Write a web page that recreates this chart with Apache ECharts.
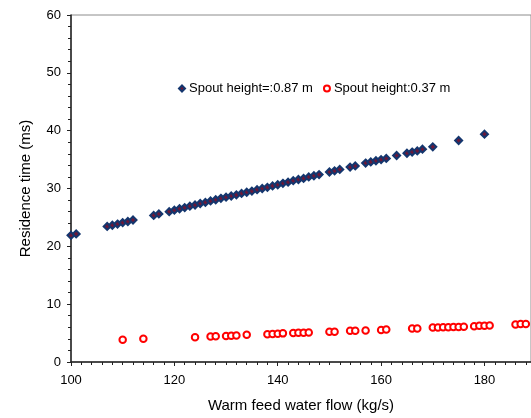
<!DOCTYPE html>
<html><head><meta charset="utf-8">
<script src="https://cdn.jsdelivr.net/npm/echarts@6/dist/echarts.min.js"></script>
<style>html,body{margin:0;padding:0;background:#fff}#c{width:531px;height:418px}</style>
</head><body><div id="c"></div>
<script>
const seriesNames = ['Spout height=:0.87 m', 'Spout height:0.37 m'];
const flowHigh = [100,101,107,108,109,110,111,112,116,117,119,120,121,122,123,124,125,126,127,128,129,130,131,132,133,134,135,136,137,138,139,140,141,142,143,144,145,146,147,148,150,151,152,154,155,157,158,159,160,161,163,165,166,167,168,170,175,180];
const timeHigh = [21.9,22.15,23.45,23.65,23.85,24.1,24.3,24.55,25.35,25.6,26.0,26.25,26.5,26.7,26.95,27.15,27.4,27.6,27.85,28.05,28.3,28.5,28.7,28.9,29.15,29.35,29.55,29.8,30.0,30.2,30.45,30.65,30.9,31.1,31.35,31.55,31.75,32.0,32.2,32.4,32.85,33.05,33.3,33.7,33.9,34.4,34.6,34.8,35.0,35.2,35.7,36.1,36.3,36.5,36.8,37.2,38.3,39.4];
const flowLow = [110,114,124,127,128,130,131,132,134,138,139,140,141,143,144,145,146,150,151,154,155,157,160,161,166,167,170,171,172,173,174,175,176,178,179,180,181,186,187,188];
const timeLow = [3.85,4.0,4.3,4.4,4.45,4.5,4.55,4.6,4.7,4.8,4.85,4.9,4.95,5.0,5.05,5.05,5.1,5.25,5.25,5.4,5.4,5.45,5.55,5.6,5.8,5.8,5.95,5.95,6.0,6.0,6.05,6.05,6.1,6.2,6.25,6.25,6.3,6.5,6.55,6.55];
const xTicks = {min: 100, max: 189, interval: 20};
const yTicks = {min: 0, max: 60, interval: 10};

const font = '"Liberation Sans", Arial, sans-serif';
const chart = echarts.init(document.getElementById('c'), null, {renderer: 'canvas'});
const zip = (a, b) => a.map((v, i) => [v, b[i]]);
chart.setOption({
  animation: false,
  textStyle: {fontFamily: font},
  grid: {left: 71, right: 0, top: 15, bottom: 54, show: true, borderColor: '#8c8c8c', borderWidth: 1, backgroundColor: 'transparent'},
  legend: {
    left: 173, top: 77, itemWidth: 6, itemHeight: 6, itemGap: 10,
    textStyle: {fontFamily: font, fontSize: 13, color: '#000', padding: [0, 0, 0, -1]},
    data: [{name: seriesNames[0], icon: 'diamond'}, {name: seriesNames[1]}]
  },
  xAxis: {
    type: 'value', min: xTicks.min, max: xTicks.max, interval: xTicks.interval,
    name: 'Warm feed water flow (kg/s)', nameLocation: 'middle', nameGap: 36,
    nameTextStyle: {fontFamily: font, fontSize: 15, color: '#000'},
    axisLine: {lineStyle: {color: '#222', width: 1.5}},
    axisTick: {show: true, length: 4, lineStyle: {color: '#222'}},
    minorTick: {show: true, splitNumber: 10, length: 3, lineStyle: {color: '#222'}},
    axisLabel: {fontFamily: font, fontSize: 13, color: '#000', margin: 12, showMaxLabel: false},
    splitLine: {show: false}
  },
  yAxis: {
    type: 'value', min: yTicks.min, max: yTicks.max, interval: yTicks.interval,
    name: 'Residence time (ms)', nameLocation: 'middle', nameGap: 38, nameRotate: 90,
    nameTextStyle: {fontFamily: font, fontSize: 15, color: '#000'},
    axisLine: {show: true, lineStyle: {color: '#222', width: 1.5}},
    axisTick: {show: true, length: 4, lineStyle: {color: '#222'}},
    minorTick: {show: true, splitNumber: 5, length: 3, lineStyle: {color: '#222'}},
    axisLabel: {fontFamily: font, fontSize: 13, color: '#000', margin: 10},
    splitLine: {show: false}
  },
  series: [
    {name: seriesNames[0], type: 'scatter', symbol: 'diamond', symbolSize: 7,
     itemStyle: {color: '#6b1838', borderColor: '#14366e', borderWidth: 2, opacity: 1},
     data: zip(flowHigh, timeHigh)},
    {name: seriesNames[1], type: 'scatter', symbol: 'emptyCircle', symbolSize: 6.5,
     itemStyle: {color: '#ff0000', borderColor: '#ff0000', borderWidth: 1.5, opacity: 1},
     data: zip(flowLow, timeLow)}
  ]
});
</script></body></html>
